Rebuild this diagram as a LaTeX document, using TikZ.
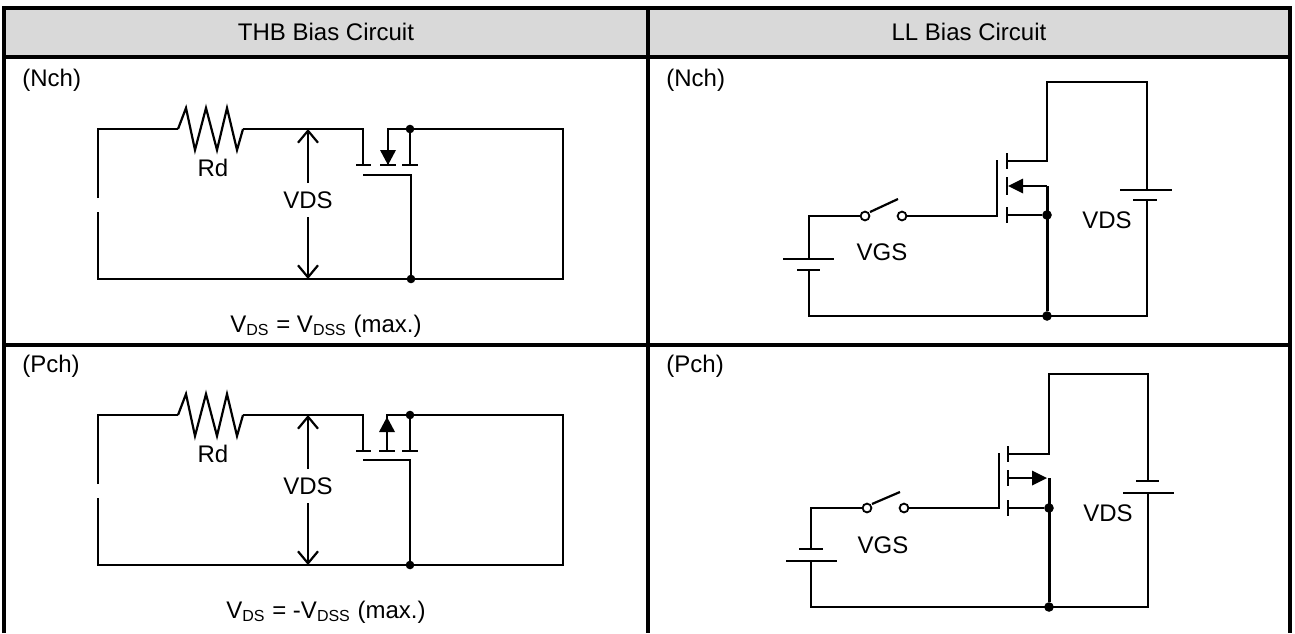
\documentclass[tikz,border=0pt]{standalone}
\usepackage{fontspec}
\setmainfont{Liberation Sans}
\usetikzlibrary{arrows.meta}
\definecolor{hdr}{HTML}{D9D9D9}
\begin{document}
\begin{tikzpicture}[x=0.5pt,y=-0.5pt,
  wire/.style={line width=1.1pt},
  thickwire/.style={line width=1.5pt},
  tbl/.style={line width=1.8pt},
  dot/.style={circle,fill,inner sep=0pt,minimum size=4.3pt},
  contact/.style={circle,draw,fill=white,inner sep=0pt,minimum size=4.4pt,line width=0.9pt},
  lbl/.style={font=\fontsize{12}{14}\selectfont,inner sep=0pt},
  vds/.style={wire,-{Straight Barb[length=6pt,width=10pt]}}]
\useasboundingbox (0,0) rectangle (1295,633);
% ---------- table ----------
\fill[hdr] (4,8) rectangle (1290,57);
\draw[tbl] (4,633) -- (4,8) -- (1290,8) -- (1290,633);
\draw[tbl] (648,8) -- (648,633);
\draw[tbl] (4,57) -- (1290,57);
\draw[tbl] (4,345) -- (1290,345);
\node[lbl] (h1) at (326,32) {THB Bias Circuit};
\node[lbl] (h2) at (969,32) {LL Bias Circuit};
\node[lbl,anchor=west] (t1) at (22,80) {(Nch)};
\node[lbl,anchor=west] (t2) at (666,80) {(Nch)};
\node[lbl,anchor=west] (t3) at (22,366) {(Pch)};
\node[lbl,anchor=west] (t4) at (666,366) {(Pch)};
% ---------- THB Nch ----------
\coordinate (nTL) at (98,129);
\coordinate (nBL) at (98,279);
\coordinate (nG1) at (98,198);
\coordinate (nG2) at (98,212);
\coordinate (nR1) at (178,129);
\coordinate (nR2) at (243,129);
\coordinate (nD) at (363,129);
\coordinate (nDc) at (363,165);
\coordinate (nB) at (388,129);
\coordinate (nBc) at (388,165);
\coordinate (nS) at (410,129);
\coordinate (nSc) at (410,165);
\coordinate (nGa) at (363,175);
\coordinate (nGb) at (411,175);
\coordinate (nGc) at (411,279);
\coordinate (nTR) at (563,129);
\coordinate (nBR) at (563,279);
\coordinate (nVt) at (308,129);
\coordinate (nVa) at (308,183);
\coordinate (nVc) at (308,217);
\coordinate (nVb) at (308,279);
\draw[wire] (nG1) -- (nTL) -- (nR1);
\draw[wire] (nR1) -- (186,108) -- (195,150) -- (206,108) -- (217,150) -- (227,108) -- (237,150) -- (nR2);
\draw[wire] (nR2) -- (nD) -- (nDc);
\draw[wire] (nDc) ++(-7,0) -- ++(15,0);
\draw[wire] (nBc) ++(-8,0) -- ++(16,0);
\draw[wire] (nSc) ++(-8,0) -- ++(16,0);
\draw[wire] (nBc) -- (nB) -- (nS) -- (nTR) -- (nBR) -- (nBL) -- (nG2);
\draw[wire] (nS) -- (nSc);
\fill (nBc) -- ++(-8,-15) -- ++(16,0) -- cycle;
\draw[wire] (nGa) -- (nGb) -- (nGc);
\node[dot] (nd1) at (nS) {};
\node[dot] (nd2) at (nGc) {};
\draw[vds] (nVa) -- (nVt);
\draw[vds] (nVc) -- (nVb);
\node[lbl] (nVDS) at (308,200) {VDS};
\node[lbl] (nRd) at (213,168) {Rd};
\node[lbl] (nF) at (326,326) {V\textsubscript{DS} = V\textsubscript{DSS} (max.)};
% ---------- THB Pch ----------
\begin{scope}[shift={(0,286)}]
\coordinate (pTL) at (98,129);
\coordinate (pBL) at (98,279);
\coordinate (pG1) at (98,198);
\coordinate (pG2) at (98,212);
\coordinate (pR1) at (178,129);
\coordinate (pR2) at (243,129);
\coordinate (pD) at (363,129);
\coordinate (pDc) at (363,165);
\coordinate (pB) at (387,129);
\coordinate (pBc) at (387,165);
\coordinate (pS) at (410,129);
\coordinate (pSc) at (410,165);
\coordinate (pGa) at (363,174);
\coordinate (pGb) at (410,174);
\coordinate (pGc) at (410,279);
\coordinate (pTR) at (563,129);
\coordinate (pBR) at (563,279);
\coordinate (pVt) at (308,129);
\coordinate (pVa) at (308,183);
\coordinate (pVc) at (308,217);
\coordinate (pVb) at (308,279);
\draw[wire] (pG1) -- (pTL) -- (pR1);
\draw[wire] (pR1) -- (186,108) -- (195,150) -- (206,108) -- (217,150) -- (227,108) -- (237,150) -- (pR2);
\draw[wire] (pR2) -- (pD) -- (pDc);
\draw[wire] (pDc) ++(-7,0) -- ++(15,0);
\draw[wire] (pBc) ++(-8,0) -- ++(16,0);
\draw[wire] (pSc) ++(-8,0) -- ++(16,0);
\draw[wire] (pBc) -- (pB) -- (pS) -- (pTR) -- (pBR) -- (pBL) -- (pG2);
\draw[wire] (pS) -- (pSc);
\fill (387,131) -- ++(-8,15) -- ++(16,0) -- cycle;
\draw[wire] (pGa) -- (pGb) -- (pGc);
\node[dot] (pd1) at (pS) {};
\node[dot] (pd2) at (pGc) {};
\draw[vds] (pVa) -- (pVt);
\draw[vds] (pVc) -- (pVb);
\node[lbl] (pVDS) at (308,200) {VDS};
\node[lbl] (pRd) at (213,168) {Rd};
\node[lbl] (pF) at (326,326) {V\textsubscript{DS} = -V\textsubscript{DSS} (max.)};
\end{scope}
% ---------- LL Nch ----------
\coordinate (mB1) at (809,216);
\coordinate (mBp) at (809,259);
\coordinate (mBn) at (809,270);
\coordinate (mBL) at (809,316);
\node[contact] (mS1) at (865,216) {};
\node[contact] (mS2) at (902,216) {};
\coordinate (mLa) at (870,212);
\coordinate (mLb) at (898,199);
\coordinate (mGt) at (997,160);
\coordinate (mGb) at (997,216);
\coordinate (mC1) at (1007,161);
\coordinate (mC2) at (1007,186);
\coordinate (mC3) at (1007,215);
\coordinate (mD1) at (1047,161);
\coordinate (mD2) at (1047,82);
\coordinate (mTR) at (1147,82);
\coordinate (mVp) at (1147,190);
\coordinate (mVn) at (1147,200);
\coordinate (mBR) at (1147,316);
\coordinate (mK) at (1047,186);
\coordinate (mA) at (1022,186);
\node[dot,minimum size=4.8pt] (mdS) at (1047,215) {};
\node[dot,minimum size=4.8pt] (mdB) at (1047,316) {};
\draw[wire] (mBp) -- (mB1) -- (mS1);
\draw[wire] (mBn) -- (mBL) -- (mBR) -- (mVn);
\draw[wire] (mVp) -- (mTR) -- (mD2) -- (mD1) -- (mC1);
\draw[wire] (mBp) ++(-26,0) -- ++(51,0);
\draw[wire] (mBn) ++(-12,0) -- ++(23,0);
\draw[wire] (mVp) ++(-27,0) -- ++(52,0);
\draw[wire] (mVn) ++(-14,0) -- ++(24,0);
\draw[wire] (mLa) -- (mLb);
\draw[wire] (mS2) -- (mGb) -- (mGt);
\draw[wire] (mC1) ++(0,-8) -- ++(0,16);
\draw[wire] (mC2) ++(0,-9) -- ++(0,18);
\draw[wire] (mC3) ++(0,-8) -- ++(0,16);
\draw[wire] (mC3) -- (mdS);
\draw[wire] (mA) -- (mK);
\fill (1008,186) -- ++(15,-7.5) -- ++(0,15) -- cycle;
\draw[thickwire] (mK) -- (mdB);
\node[lbl] (mVGS) at (882,252) {VGS};
\node[lbl] (mVDS) at (1107,220) {VDS};
% ---------- LL Pch ----------
\coordinate (qB1) at (811,508);
\coordinate (qBn) at (811,549);
\coordinate (qBp) at (811,561);
\coordinate (qBL) at (811,607);
\node[contact] (qS1) at (867,508) {};
\node[contact] (qS2) at (904,508) {};
\coordinate (qLa) at (872,504);
\coordinate (qLb) at (900,492);
\coordinate (qGt) at (999,453);
\coordinate (qGb) at (999,508);
\coordinate (qC1) at (1008,454);
\coordinate (qC2) at (1008,478);
\coordinate (qC3) at (1008,508);
\coordinate (qD1) at (1049,454);
\coordinate (qD2) at (1049,374);
\coordinate (qTR) at (1148,374);
\coordinate (qVn) at (1148,481);
\coordinate (qVp) at (1148,493);
\coordinate (qBR) at (1148,607);
\coordinate (qK) at (1049,478);
\coordinate (qA) at (1033,478);
\node[dot,minimum size=4.8pt] (qdS) at (1049,508) {};
\node[dot,minimum size=4.8pt] (qdB) at (1049,607) {};
\draw[wire] (qBn) -- (qB1) -- (qS1);
\draw[wire] (qBp) -- (qBL) -- (qBR) -- (qVp);
\draw[wire] (qVn) -- (qTR) -- (qD2) -- (qD1) -- (qC1);
\draw[wire] (qBn) ++(-12,0) -- ++(24,0);
\draw[wire] (qBp) ++(-25,0) -- ++(51,0);
\draw[wire] (qVn) ++(-12,0) -- ++(23,0);
\draw[wire] (qVp) ++(-25,0) -- ++(51,0);
\draw[wire] (qLa) -- (qLb);
\draw[wire] (qS2) -- (qGb) -- (qGt);
\draw[wire] (qC1) ++(0,-8) -- ++(0,16);
\draw[wire] (qC2) ++(0,-8) -- ++(0,16);
\draw[wire] (qC3) ++(0,-8) -- ++(0,16);
\draw[wire] (qC3) -- (qdS);
\draw[wire] (qC2) -- (qA);
\fill (1047,478) -- ++(-15,-7.5) -- ++(0,15) -- cycle;
\draw[thickwire] (qK) -- (qdB);
\node[lbl] (qVGS) at (883,545) {VGS};
\node[lbl] (qVDS) at (1108,513) {VDS};
\end{tikzpicture}
\end{document}
